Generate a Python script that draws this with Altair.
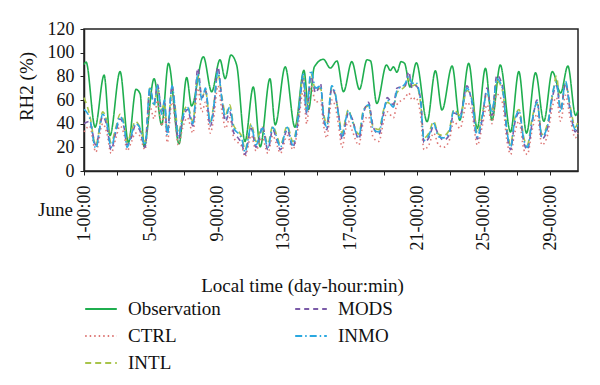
import altair as alt
import pandas as pd

# ---------------- data ----------------
# hours since June 1 00:00
OBS_H = [0, 3, 16, 29, 37.5, 52, 64, 75, 81, 86.6, 101, 112, 121.7, 137, 148, 155, 172, 184, 196, 203.5,
         211.7, 220, 232, 244, 254, 268, 275.6, 290, 304, 317, 323.7, 332, 345, 355, 364.6, 374, 386, 397,
         408, 413, 422, 436, 441.5, 446, 451, 457, 462, 470, 479, 494.5, 506.5, 516, 530.6, 541.6, 554.5,
         566.7, 578.6, 588, 600, 614.7, 626.7, 637.8, 650.8, 662.8, 675, 687, 697.4, 708.5, 712]
OBS_V = [90, 92, 37, 81, 30, 84, 24, 69, 65, 20.5, 78, 39, 91, 23, 79, 55, 96.6, 67, 94, 78,
         98, 89.6, 25, 71, 20.5, 78, 39, 88, 37, 85, 52, 88, 94.4, 87, 93, 67, 92.4, 69,
         94, 93, 57, 89.6, 85, 88, 83.5, 92.4, 91, 71, 91.5, 41.7, 84.7, 51.5, 88.7, 43, 91,
         36, 86.8, 43, 89.6, 33, 84, 32, 83, 42, 84, 66, 88.7, 47, 51]

MOD_H = [0, 8, 17, 27, 33, 39, 46, 52, 58, 62,
         68, 74, 80, 88, 95, 101, 106, 112, 116, 120,
         127, 131, 136, 142, 149, 157, 164, 170, 175, 182,
         187, 193, 199, 204, 210, 216, 222, 228, 232, 241,
         248, 253, 257, 265, 272, 278, 283, 293, 301, 308,
         316, 321, 327, 334, 341, 345, 350, 357, 362, 367,
         372, 377, 381, 386, 396, 403, 410, 417, 425, 432,
         437, 446, 451, 463, 468, 473, 478, 485, 490, 497,
         504, 511, 518, 526, 533, 542, 552, 559, 567, 574,
         581, 588, 595, 603, 610, 615, 620, 627, 634, 639,
         646, 653, 660, 668, 675, 681, 687, 694, 701, 708,
         712]
CTRL = [33, 38, 16, 40, 32, 15, 28, 38, 30, 17,
        24, 32, 30, 18, 55, 44, 60, 38, 48, 24,
        60, 44, 22, 36, 45, 32, 70, 50, 58, 32,
        45, 72, 50, 36, 45, 28, 24, 20, 12, 30,
        17, 24, 28, 15, 30, 22, 15, 30, 18, 35,
        68, 40, 72, 58, 60, 40, 28, 60, 55, 38,
        20, 35, 42, 35, 22, 42, 46, 28, 25, 42,
        50, 45, 56, 62, 66, 60, 62, 48, 18, 22,
        32, 22, 20, 25, 42, 36, 58, 50, 22, 38,
        56, 40, 65, 58, 24, 14, 30, 42, 18, 14,
        35, 48, 22, 30, 54, 62, 42, 64, 44, 28,
        32]
INTL = [62, 48, 22, 50, 42, 24, 37, 48, 40, 24,
        33, 42, 38, 25, 70, 56, 70, 52, 58, 33,
        70, 56, 32, 47, 55, 42, 80, 62, 68, 42,
        56, 82, 62, 48, 56, 38, 34, 28, 18, 40,
        25, 32, 37, 23, 38, 30, 22, 38, 25, 43,
        80, 52, 82, 68, 70, 50, 40, 70, 65, 48,
        32, 44, 52, 44, 31, 52, 55, 37, 35, 52,
        58, 55, 66, 72, 78, 72, 73, 58, 28, 32,
        42, 31, 30, 34, 52, 47, 68, 62, 32, 48,
        66, 50, 76, 68, 34, 22, 42, 52, 28, 22,
        45, 57, 31, 40, 63, 80, 52, 74, 54, 37,
        42]
MODS = [40, 42, 22, 46, 38, 18, 33, 44, 36, 22,
        28, 38, 35, 20, 68, 58, 73, 50, 58, 32,
        72, 52, 27, 42, 52, 38, 87, 62, 68, 38,
        52, 88, 58, 42, 50, 32, 28, 22, 14, 36,
        20, 28, 38, 18, 35, 26, 18, 35, 20, 40,
        78, 48, 80, 66, 74, 46, 35, 70, 64, 48,
        27, 40, 49, 45, 27, 49, 58, 37, 31, 49,
        62, 56, 70, 72, 84, 70, 72, 62, 24, 28,
        38, 31, 26, 30, 49, 47, 72, 58, 27, 44,
        70, 47, 81, 72, 30, 18, 38, 49, 24, 18,
        41, 60, 27, 36, 62, 72, 52, 74, 50, 33,
        38]
INMO = [52, 45, 19, 48, 40, 20, 35, 46, 38, 20,
        30, 40, 37, 22, 71, 55, 72, 48, 60, 30,
        72, 55, 29, 45, 54, 40, 82, 60, 70, 40,
        55, 84, 60, 45, 54, 36, 32, 26, 16, 38,
        22, 30, 36, 20, 37, 28, 20, 37, 22, 42,
        82, 50, 85, 70, 72, 49, 37, 72, 66, 46,
        29, 43, 51, 43, 29, 51, 56, 35, 33, 51,
        60, 54, 68, 74, 80, 74, 75, 60, 26, 30,
        40, 29, 28, 32, 51, 45, 70, 60, 29, 46,
        68, 49, 78, 70, 32, 20, 40, 51, 26, 20,
        43, 58, 29, 38, 65, 75, 50, 76, 52, 35,
        40]

SERIES = ["Observation", "CTRL", "INTL", "MODS", "INMO"]  # legend order (column-wise, 2 columns)
DRAW_ORDER = ["CTRL", "INTL", "MODS", "INMO", "Observation"]

X_TICKS = [0, 48, 96, 144, 192, 240, 288, 336, 384, 432, 480, 528, 576, 624, 672]
X_LABEL_HOURS = [0, 96, 192, 288, 384, 480, 576, 672]
X_LABELS = ["1-00:00", "5-00:00", "9-00:00", "13-00:00", "17-00:00", "21-00:00", "25-00:00", "29-00:00"]
Y_TICKS = [0, 20, 40, 60, 80, 100, 120]
MONTH = ["June"]

# ---------------- styles ----------------
COLORS = ["#1fae4f", "#de7a78", "#a8c44a", "#7b5ba8", "#2aa8e0"]
DASHES = [[1, 0], [1.5, 3], [6, 4], [5, 4], [7, 3, 1.5, 3]]
FONT = "Liberation Serif"

rows = []
for h, v in zip(OBS_H, OBS_V):
    rows.append({"hour": h, "rh": v, "series": "Observation"})
for name, vals in [("CTRL", CTRL), ("INTL", INTL), ("MODS", MODS), ("INMO", INMO)]:
    for h, v in zip(MOD_H, vals):
        rows.append({"hour": h, "rh": v, "series": name})
df = pd.DataFrame(rows)
df["order"] = df["series"].map({s: i for i, s in enumerate(DRAW_ORDER)})

expr = ""
for hh, lab in zip(X_LABEL_HOURS, X_LABELS):
    expr += f"datum.value == {hh} ? '{lab}' : "
expr += "''"

legend_kw = dict(
    title=None, orient="none", legendX=0, legendY=263, columns=2,
    symbolType="stroke", symbolSize=1000, symbolStrokeWidth=1.8,
    labelFont=FONT, labelFontSize=19, labelColor="#111", labelOffset=10,
    columnPadding=70, rowPadding=-8,
)

lines = alt.Chart(df).mark_line(interpolate="monotone", strokeWidth=1.6).encode(
    x=alt.X("hour:Q", scale=alt.Scale(domain=[0, 712], nice=False, zero=False),
            axis=alt.Axis(values=X_TICKS, labelExpr=expr, labelAngle=270,
                          labelAlign="right", labelBaseline="middle",
                          labelOverlap=False, labelFlush=False, tickSize=4, labelPadding=10,
                          title="Local time (day-hour:min)", titleX=218, titleY=114,
                          titleBaseline="middle", titleAlign="center")),
    y=alt.Y("rh:Q", scale=alt.Scale(domain=[0, 120], nice=False),
            axis=alt.Axis(values=Y_TICKS, tickSize=4, labelPadding=6,
                          title="RH2 (%)", titleX=-48, titleY=57)),
    color=alt.Color("series:N", scale=alt.Scale(domain=SERIES, range=COLORS),
                    legend=alt.Legend(**legend_kw)),
    strokeDash=alt.StrokeDash("series:N", scale=alt.Scale(domain=SERIES, range=DASHES),
                              legend=alt.Legend(**legend_kw)),
    detail="series:N",
    order="order:Q",
)

june = alt.Chart(pd.DataFrame({"t": MONTH})).mark_text(
    align="left", baseline="middle", font=FONT, fontSize=19, color="#111"
).encode(x=alt.value(-46), y=alt.value(181), text="t:N")

chart = alt.layer(lines, june).properties(
    width=494, height=142,
    autosize=alt.AutoSizeParams(type="none"),
    padding={"left": 76, "top": 21, "right": 10, "bottom": 204},
).configure_view(stroke="#222", strokeWidth=1.5).configure_axis(
    grid=False, domainColor="#222", tickColor="#222", domainWidth=1.5,
    labelFont=FONT, labelFontSize=18, labelColor="#111",
    titleFont=FONT, titleFontSize=19, titleColor="#111", titleFontWeight="normal",
)

chart.save("out.html", embed_options={"renderer": "svg", "actions": False})
